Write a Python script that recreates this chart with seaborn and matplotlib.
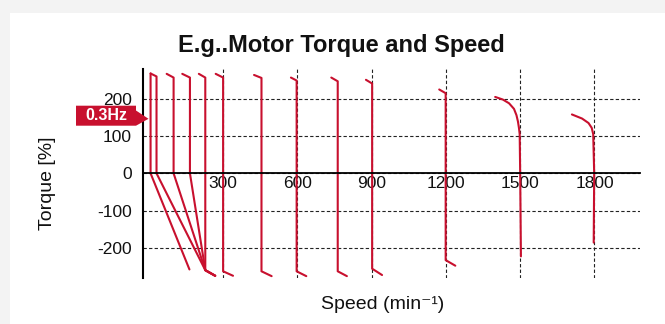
import numpy as np
import pandas as pd
import matplotlib
matplotlib.use("Agg")
import matplotlib.pyplot as plt
import seaborn as sns
from matplotlib.patches import Rectangle, Polygon

# ---------------- data (speed in min^-1, torque in %) ----------------
c01_speed = [7, 7, 164]
c01_torque = [268, 0, -258]
c02_speed = [7, 31, 31, 228, 268]
c02_torque = [268, 260, 0, -260, -275]
c03_speed = [72, 100, 100, 228, 268]
c03_torque = [267, 257, 0, -260, -275]
c04_speed = [135, 166, 166, 228, 268]
c04_torque = [267, 257, 0, -260, -275]
c05_speed = [202, 228, 228, 268]
c05_torque = [267, 257, -260, -275]
c06_speed = [270, 300, 300, 340]
c06_torque = [267, 257, -263, -275]
c07_speed = [425, 455, 455, 496]
c07_torque = [264, 256, -263, -276]
c08_speed = [574, 597, 597, 636]
c08_torque = [257, 249, -263, -276]
c09_speed = [737, 763, 763, 800]
c09_torque = [257, 247, -263, -276]
c10_speed = [877, 902, 902, 942]
c10_torque = [251, 241, -256, -273]
c11_speed = [1173, 1199, 1199, 1238]
c11_torque = [225, 215, -233, -248]
c12_speed = [1399, 1430, 1455, 1475, 1485, 1491, 1495, 1498, 1500, 1503]
c12_torque = [205, 198, 188, 173, 156, 139, 122, 105, 0, -223]
c13_speed = [1709, 1750, 1776, 1789, 1795, 1799, 1797]
c13_torque = [158, 147, 135, 122, 105, 0, -186]

x_ticks = [300, 600, 900, 1200, 1500, 1800]
y_ticks = [-200, -100, 0, 100, 200]

title = "E.g..Motor Torque and Speed"
x_label = "Speed (min\u207b\u00b9)"
y_label = "Torque [%]"
tag_text = "0.3Hz"

curves = [
    (c01_speed, c01_torque), (c02_speed, c02_torque), (c03_speed, c03_torque),
    (c04_speed, c04_torque), (c05_speed, c05_torque), (c06_speed, c06_torque),
    (c07_speed, c07_torque), (c08_speed, c08_torque), (c09_speed, c09_torque),
    (c10_speed, c10_torque), (c11_speed, c11_torque), (c12_speed, c12_torque),
    (c13_speed, c13_torque),
]
df = pd.concat(
    [pd.DataFrame({"speed": s, "torque": t, "curve": i})
     for i, (s, t) in enumerate(curves)],
    ignore_index=True,
)

# ---------------- style ----------------
RED = "#c8102e"
sns.set_theme(style="white")
plt.rcParams["font.family"] = ["Liberation Sans", "DejaVu Sans"]

W, H = 665, 324
fig = plt.figure(figsize=(W / 100, H / 100), dpi=100)
fig.patch.set_facecolor("#f3f3f3")


def fx(px):
    return px / W


def fy(py):
    return 1 - py / H


fig.add_artist(Rectangle((fx(10), 0), 1, fy(13), transform=fig.transFigure,
                         facecolor="white", edgecolor="none", zorder=-5))

ax = fig.add_axes([fx(143), fy(278), 497 / W, 209 / H])
ax.set_facecolor("none")

sns.lineplot(data=df, x="speed", y="torque", units="curve", estimator=None,
             sort=False, color=RED, linewidth=1.5, ax=ax, legend=False)

ax.set_xlim(-23.6, 1984)
ax.set_ylim(-281, 280)
ax.set_xticks(x_ticks)
ax.set_yticks(y_ticks)
ax.set_xticklabels([str(v) for v in x_ticks])
ax.set_yticklabels([str(v) for v in y_ticks])
ax.set_xlabel("")
ax.set_ylabel("")

for side in ("top", "right"):
    ax.spines[side].set_visible(False)
ax.spines["left"].set_color("black")
ax.spines["left"].set_linewidth(1.5)
ax.spines["bottom"].set_position(("data", 0))
ax.spines["bottom"].set_color("black")
ax.spines["bottom"].set_linewidth(1.3)

ax.tick_params(axis="both", length=0, labelsize=12.5, labelcolor="#111111")
ax.tick_params(axis="x", pad=2)
ax.tick_params(axis="y", pad=8)

ax.grid(True, axis="both", linestyle=(0, (3, 2)), color="#222222", linewidth=0.8)
ax.set_axisbelow(True)

# labels
fig.text(fx(341), fy(52), title, ha="center", va="baseline",
         fontsize=17, fontweight="bold", color="#111111")
fig.text(fx(382.5), fy(309), x_label, ha="center", va="baseline",
         fontsize=14, color="#111111")
fig.text(fx(47), fy(183), y_label, ha="center", va="center", rotation=90,
         fontsize=14, color="#111111")

# red tag
tag = [(76, 105.7), (136, 105.7), (136, 110.5), (148.5, 118.8), (136, 125.7), (76, 125.7)]
fig.add_artist(Polygon([(fx(x), fy(y)) for x, y in tag], closed=True,
                       transform=fig.transFigure, facecolor=RED, edgecolor="none", zorder=5))
fig.text(fx(106), fy(115.7), tag_text, ha="center", va="center", fontsize=11.5,
         fontweight="bold", color="white", zorder=6)

fig.savefig("out.png", dpi=100, facecolor=fig.get_facecolor())
